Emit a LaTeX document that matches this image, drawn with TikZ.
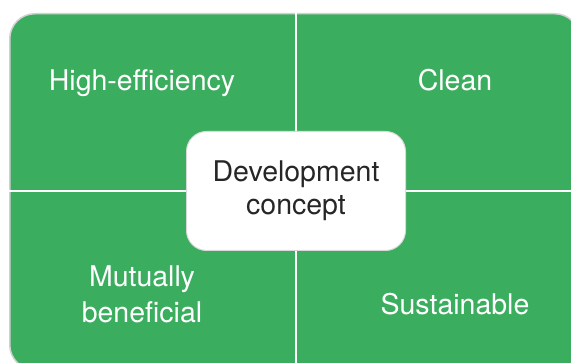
\documentclass[tikz,border=0pt]{standalone}
\usepackage{fontspec}
\setmainfont{TeX Gyre Heros}
\usetikzlibrary{positioning,calc}
\definecolor{leaf}{RGB}{58,174,94}
\colorlet{c1}{leaf}
\colorlet{c2}{black!85}

\begin{document}
\begin{tikzpicture}[x=1pt, y=1pt, font=\fontsize{28.5}{36}\selectfont]
\tikzstyle{quad}=[text=white, align=center, inner sep=0pt]
\tikzstyle{hub}=[fill=white, draw=black!15, line width=1pt, rounded corners=20pt, minimum width=219pt, minimum height=119pt, text=c2, align=center, font=\fontsize{28.5}{33}\selectfont]
\useasboundingbox (0,0) rectangle (571,363);
\clip (0,0) rectangle (571,363);
\node[fill=c1, draw=black!18, line width=1.5pt, rounded corners=25pt, minimum width=570pt, minimum height=356pt, anchor=north west, inner sep=0pt] (board) at (9,350) {};
\coordinate (hubpos) at (296,172);
% divider lines
\draw[white, line width=1.2pt] (hubpos |- board.north) -- (hubpos |- board.south);
\draw[white, line width=1.2pt] (hubpos -| board.west) -- (hubpos -| board.east);
\node[hub] (hub) at (hubpos) {Development\\concept};
% quadrant labels
\node[quad, anchor=base] (eff)  at (142,272) {High-efficiency};
\node[quad, anchor=base] (clean) at (455,272) {Clean};
\node[quad] (mutual) at (142,68.5) {Mutually\\beneficial};
\node[quad, anchor=base] (sust) at (455,48) {Sustainable};
\end{tikzpicture}
\end{document}
